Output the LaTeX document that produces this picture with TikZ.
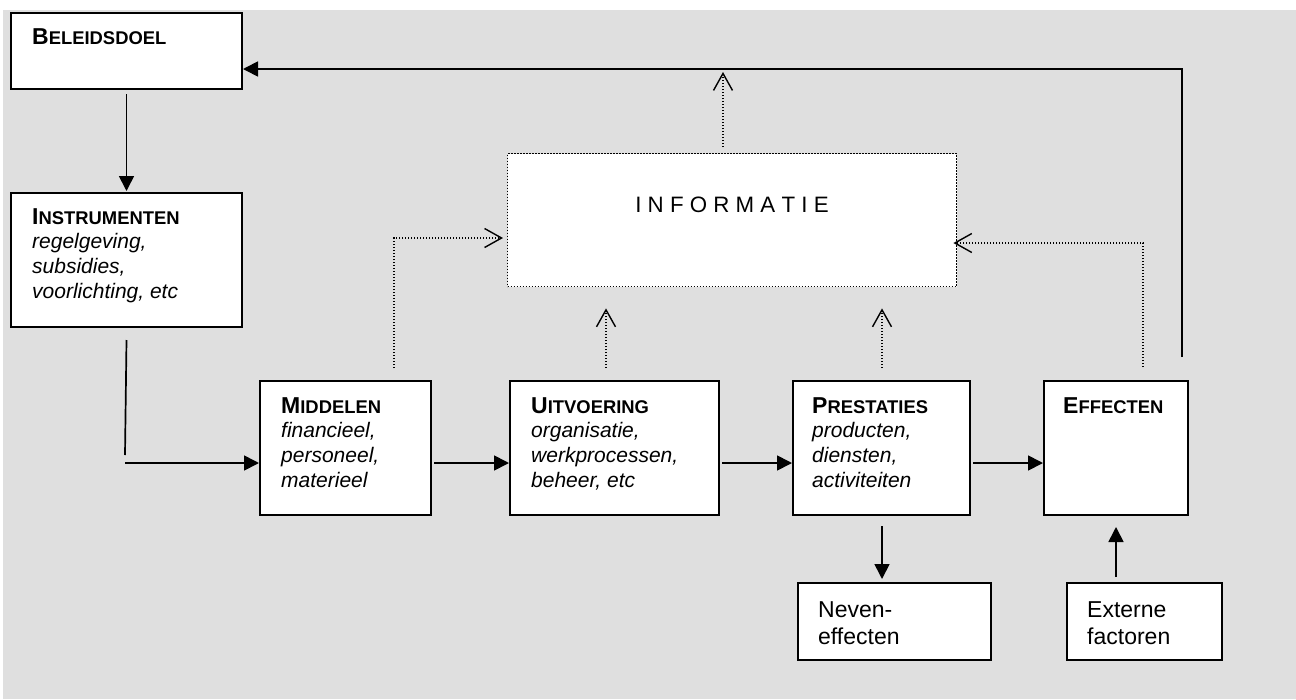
\documentclass[tikz,border=0pt]{standalone}
\usepackage{fontspec}
\setmainfont{Liberation Sans}
\usetikzlibrary{arrows.meta}
\definecolor{bggray}{RGB}{223,223,223}
\newcommand{\ttlsc}[2]{{\fontsize{23}{24.7}\selectfont\bfseries #1\fontsize{18.4}{24.7}\selectfont #2}}
\begin{document}
\begin{tikzpicture}[x=1pt,y=-1pt,
  box/.style={draw, line width=2pt, fill=white, inner sep=0pt, anchor=north west},
  lbl/.style={anchor=north west, inner sep=0pt, align=left, font=\fontsize{21}{24.7}\selectfont},
  lblreg/.style={anchor=north west, inner sep=0pt, align=left, font=\fontsize{23}{27.5}\selectfont},
  conn/.style={line width=1.7pt},
  arr/.style={conn, -{Triangle[length=15pt,width=15pt]}},
  dotl/.style={line width=1.4pt, dash pattern=on 1.4pt off 1.6pt},
  dotarr/.style={dotl, -{Straight Barb[length=17pt,width=19pt,line width=1.4pt]}}]
\useasboundingbox (0,0) rectangle (1296,699);
\fill[bggray] (3,10) rectangle (1296,699);

% boxes
\node[box, minimum width=231pt, minimum height=76pt] (bel) at (10,12) {};
\node[box, minimum width=231pt, minimum height=134pt] (ins) at (10,192) {};
\node[box, minimum width=171pt, minimum height=134pt] (mid) at (259,380) {};
\node[box, minimum width=209pt, minimum height=134pt] (uit) at (509,380) {};
\node[box, minimum width=177pt, minimum height=134pt] (prest) at (792,380) {};
\node[box, minimum width=144pt, minimum height=134pt] (eff) at (1043,380) {};
\node[box, minimum width=193pt, minimum height=77pt] (nev) at (797,582) {};
\node[box, minimum width=155pt, minimum height=77pt] (ext) at (1066,582) {};
\node[draw, dotl, fill=white, inner sep=0pt, anchor=north west, minimum width=449pt, minimum height=133pt] (info) at (507,153) {};

% texts
\node[lbl] (belT) at ([shift={(22,16)}]bel.north west) {\ttlsc{B}{ELEIDSDOEL}};
\node[lbl] (insT) at ([shift={(22,16)}]ins.north west) {\ttlsc{I}{NSTRUMENTEN}\\\textit{regelgeving,}\\\textit{subsidies,}\\\textit{voorlichting, etc}};
\node[lbl] (midT) at ([shift={(22,17)}]mid.north west) {\ttlsc{M}{IDDELEN}\\\textit{financieel,}\\\textit{personeel,}\\\textit{materieel}};
\node[lbl] (uitT) at ([shift={(22,17)}]uit.north west) {\ttlsc{U}{ITVOERING}\\\textit{organisatie,}\\\textit{werkprocessen,}\\\textit{beheer, etc}};
\node[lbl] (prestT) at ([shift={(20,17)}]prest.north west) {\ttlsc{P}{RESTATIES}\\\textit{producten,}\\\textit{diensten,}\\\textit{activiteiten}};
\node[lbl] (effT) at ([shift={(20,17)}]eff.north west) {\ttlsc{E}{FFECTEN}};
\node[lblreg] (nevT) at ([shift={(21,19)}]nev.north west) {Neven-\\effecten};
\node[lblreg] (extT) at ([shift={(21,19)}]ext.north west) {Externe\\factoren};
\node[anchor=base, inner sep=0pt, font=\fontsize{22.3}{27}\selectfont] (infoT) at (732,212.5) {I N F O R M A T I E};

% solid connectors
\draw[arr, shorten <=4pt, shorten >=1pt] (bel.south) -- (ins.north);
\coordinate (fb1) at (1182,357);
\coordinate (fb2) at (1182,69);
\draw[arr] (fb1) -- (fb2) -- (bel.east |- fb2);
\coordinate (im1) at (125,455);
\coordinate (im2) at (125,463);
\draw[conn] ([yshift=-12pt]ins.south) -- (im1);
\draw[arr] (im2) -- (mid.west |- im2);
\draw[arr, shorten <=2pt] (mid.east |- im2) -- (uit.west |- im2);
\draw[arr, shorten <=2pt] (uit.east |- im2) -- (prest.west |- im2);
\draw[arr, shorten <=2pt] (prest.east |- im2) -- (eff.west |- im2);
\coordinate (pn) at (882,514);
\draw[arr, shorten <=12pt, shorten >=3pt] (pn) -- (pn |- nev.north);
\draw[arr, shorten <=5pt, shorten >=11pt] (eff.south |- ext.north) -- (eff.south);

% dotted connectors
\coordinate (dm1) at (394,368);
\coordinate (dm2) at (394,238);
\draw[dotarr, shorten >=4pt] (dm1) -- (dm2) -- (info.west |- dm2);
\coordinate (du1) at (606,368);
\draw[dotarr, shorten >=21pt] (du1) -- (du1 |- info.south);
\coordinate (dp1) at (882,368);
\draw[dotarr, shorten >=21pt] (dp1) -- (dp1 |- info.south);
\coordinate (de1) at (1143,367);
\coordinate (de2) at (1143,243);
\draw[dotarr, shorten >=-4pt] (de1) -- (de2) -- (info.east |- de2);
\coordinate (itop) at (723,72);
\draw[dotarr, shorten <=6pt] (info.north -| itop) -- (itop);
\end{tikzpicture}
\end{document}
